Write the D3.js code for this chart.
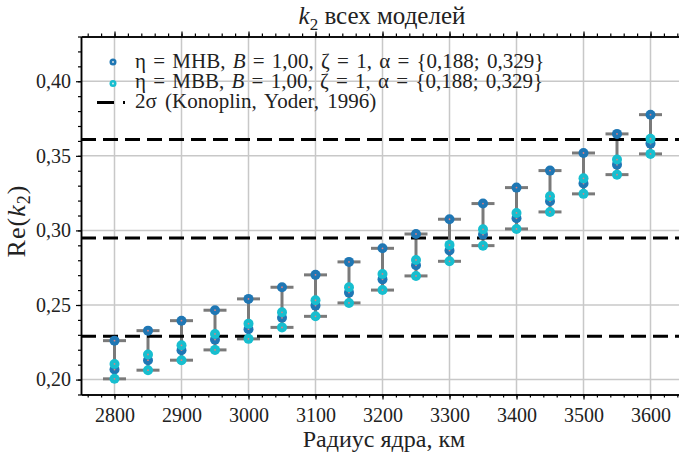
<!DOCTYPE html>
<html>
<head>
<meta charset="utf-8">
<script src="https://cdn.jsdelivr.net/npm/d3@7"></script>
<style>
  body { margin: 0; background: #fff; }
  svg text { font-family: "Liberation Serif", "Times New Roman", serif; fill: #222; }
</style>
</head>
<body>
<div id="chart"></div>
<script>
// core radius, km
const radius = [2800, 2850, 2900, 2950, 3000, 3050, 3100, 3150, 3200,
                3250, 3300, 3350, 3400, 3450, 3500, 3550, 3600];
// eta = MHB, alpha = 0.188 / 0.329
const mhbHigh = [0.2261, 0.2328, 0.2395, 0.2465, 0.2541, 0.2619, 0.2702, 0.2789, 0.2880,
                 0.2976, 0.3075, 0.3180, 0.3287, 0.3401, 0.3519, 0.3647, 0.3776];
const mhbLow  = [0.2067, 0.2130, 0.2197, 0.2268, 0.2338, 0.2414, 0.2496, 0.2583, 0.2672,
                 0.2766, 0.2865, 0.2972, 0.3081, 0.3195, 0.3314, 0.3441, 0.3582];
// eta = MBB, alpha = 0.188 / 0.329
const mbbHigh = [0.2105, 0.2168, 0.2230, 0.2306, 0.2375, 0.2451, 0.2532, 0.2619, 0.2708,
                 0.2802, 0.2903, 0.3007, 0.3117, 0.3229, 0.3349, 0.3475, 0.3615];
const mbbLow  = [0.2005, 0.2063, 0.2130, 0.2199, 0.2273, 0.2350, 0.2424, 0.2514, 0.2600,
                 0.2695, 0.2793, 0.2898, 0.3010, 0.3124, 0.3245, 0.3374, 0.3513];
// Konoplin & Yoder (1996): 0.295 +/- 2 sigma
const obsLevels = [0.229, 0.295, 0.361];
const xTicks = [2800, 2900, 3000, 3100, 3200, 3300, 3400, 3500, 3600];
const yTicks = [0.20, 0.25, 0.30, 0.35, 0.40];

const width = 679, height = 457;
const colMHB = "#1f77b4", colMBB = "#17becf";

const svg = d3.select("#chart").append("svg")
  .attr("width", width).attr("height", height)
  .style("background", "#fff");

const x = d3.scaleLinear().domain([2750, 3650]).range([81, 684]);
const y = d3.scaleLinear().domain([0.19, 0.43]).range([394.5, 36.5]);
const fmt = d => d3.format(".2f")(d).replace(".", ",");

// grid
svg.append("g").selectAll("line").data(xTicks).join("line")
  .attr("x1", d => x(d)).attr("x2", d => x(d))
  .attr("y1", y.range()[0]).attr("y2", y.range()[1])
  .attr("stroke", "#c8c8c8").attr("stroke-width", 1.5);
svg.append("g").selectAll("line").data(yTicks).join("line")
  .attr("x1", x.range()[0]).attr("x2", x.range()[1])
  .attr("y1", d => y(d)).attr("y2", d => y(d))
  .attr("stroke", "#c8c8c8").attr("stroke-width", 1.5);

// error bars spanning all four models
const rows = radius.map((r, i) => ({
  r, vals: [mhbHigh[i], mhbLow[i], mbbHigh[i], mbbLow[i]]
}));
const bars = svg.append("g").attr("stroke", "#7a7a7a").attr("stroke-width", 3);
bars.selectAll(".stem").data(rows).join("line")
  .attr("x1", d => x(d.r)).attr("x2", d => x(d.r))
  .attr("y1", d => y(d3.min(d.vals))).attr("y2", d => y(d3.max(d.vals)));
rows.forEach(d => {
  [d3.min(d.vals), d3.max(d.vals)].forEach(v => {
    bars.append("line")
      .attr("x1", x(d.r) - 11.5).attr("x2", x(d.r) + 11.5)
      .attr("y1", y(v)).attr("y2", y(v));
  });
});

// 2 sigma lines
svg.append("g").selectAll("line").data(obsLevels).join("line")
  .attr("x1", x.range()[0]).attr("x2", x.range()[1])
  .attr("y1", d => y(d)).attr("y2", d => y(d))
  .attr("stroke", "#000").attr("stroke-width", 3)
  .attr("stroke-dasharray", "15,7");

// points
function drawSeries(vals, color) {
  const g = svg.append("g");
  g.selectAll("circle.p").data(vals).join("circle")
    .attr("cx", (d, i) => x(radius[i])).attr("cy", d => y(d))
    .attr("r", 5).attr("fill", color);
  g.selectAll("circle.c").data(vals).join("circle")
    .attr("cx", (d, i) => x(radius[i])).attr("cy", d => y(d))
    .attr("r", 0.9).attr("fill", "#e08080");
}
drawSeries(mhbHigh, colMHB);
drawSeries(mhbLow, colMHB);
drawSeries(mbbHigh, colMBB);
drawSeries(mbbLow, colMBB);

// axes
function styleAxis(g) {
  g.selectAll("path").attr("stroke", "#000").attr("stroke-width", 1.5);
  g.selectAll("line").attr("stroke", "#000").attr("stroke-width", 1.2);
  g.selectAll("text").style("font-size", "20px").attr("fill", "#222");
}
const xMinor = d3.range(2760, 3650, 20);
const yMinor = d3.range(0.19, 0.431, 0.01);

svg.append("g").attr("transform", `translate(0,${y.range()[0]})`)
  .call(d3.axisBottom(x).tickValues(xMinor).tickSize(3).tickSizeOuter(0).tickFormat(""))
  .call(styleAxis);
svg.append("g").attr("transform", `translate(0,${y.range()[0]})`)
  .call(d3.axisBottom(x).tickValues(xTicks).tickSize(5).tickSizeOuter(0).tickPadding(8).tickFormat(d3.format("d")))
  .call(styleAxis);
svg.append("g").attr("transform", `translate(0,${y.range()[1]})`)
  .call(d3.axisTop(x).tickValues(xMinor).tickSize(3).tickSizeOuter(0).tickFormat(""))
  .call(styleAxis);
svg.append("g").attr("transform", `translate(0,${y.range()[1]})`)
  .call(d3.axisTop(x).tickValues(xTicks).tickSize(5).tickSizeOuter(0).tickFormat(""))
  .call(styleAxis);
svg.append("g").attr("transform", `translate(${x.range()[0]},0)`)
  .call(d3.axisLeft(y).tickValues(yMinor).tickSize(3).tickSizeOuter(0).tickFormat(""))
  .call(styleAxis);
svg.append("g").attr("transform", `translate(${x.range()[0]},0)`)
  .call(d3.axisLeft(y).tickValues(yTicks).tickSize(5).tickSizeOuter(0).tickPadding(5).tickFormat(fmt))
  .call(styleAxis);

// title
const title = svg.append("text").attr("x", 382).attr("y", 24)
  .attr("text-anchor", "middle").style("font-size", "25px");
title.append("tspan").style("font-style", "italic").text("k");
title.append("tspan").attr("dy", 6).style("font-size", "17px").text("2");
title.append("tspan").attr("dy", -6).text(" всех моделей");

// axis labels
svg.append("text").attr("x", 384).attr("y", 447)
  .attr("text-anchor", "middle").style("font-size", "24px")
  .text("Радиус ядра, км");

const yl = svg.append("text")
  .attr("transform", "translate(25,221) rotate(-90)")
  .attr("text-anchor", "middle").style("font-size", "26px")
  .style("letter-spacing", "1px");
yl.append("tspan").text("Re(");
yl.append("tspan").style("font-style", "italic").text("k");
yl.append("tspan").attr("dy", 5).style("font-size", "18px").text("2");
yl.append("tspan").attr("dy", -5).text(")");

// legend
const legend = svg.append("g").style("font-size", "21px");
function legendText(ty, model) {
  const t = legend.append("text").attr("x", 135).attr("y", ty).style("word-spacing", "2px");
  t.append("tspan").text(`η = ${model}, `);
  t.append("tspan").style("font-style", "italic").text("B");
  t.append("tspan").text(" = 1,00, ζ = 1, α = {0,188; 0,329}");
}
[[62, colMHB, "МНВ", 67.5], [83.5, colMBB, "МВВ", 88]].forEach(([cy, c, m, ty]) => {
  legend.append("circle").attr("cx", 113).attr("cy", cy).attr("r", 3.5).attr("fill", c);
  legend.append("circle").attr("cx", 113).attr("cy", cy).attr("r", 0.9).attr("fill", "#eee");
  legendText(ty, m);
});
legend.append("line").attr("x1", 97).attr("x2", 125).attr("y1", 102.5).attr("y2", 102.5)
  .attr("stroke", "#000").attr("stroke-width", 3).attr("stroke-dasharray", "17,9");
legend.append("text").attr("x", 135).attr("y", 107.5).style("word-spacing", "3px")
  .text("2σ (Konoplin, Yoder, 1996)");
</script>
</body>
</html>
